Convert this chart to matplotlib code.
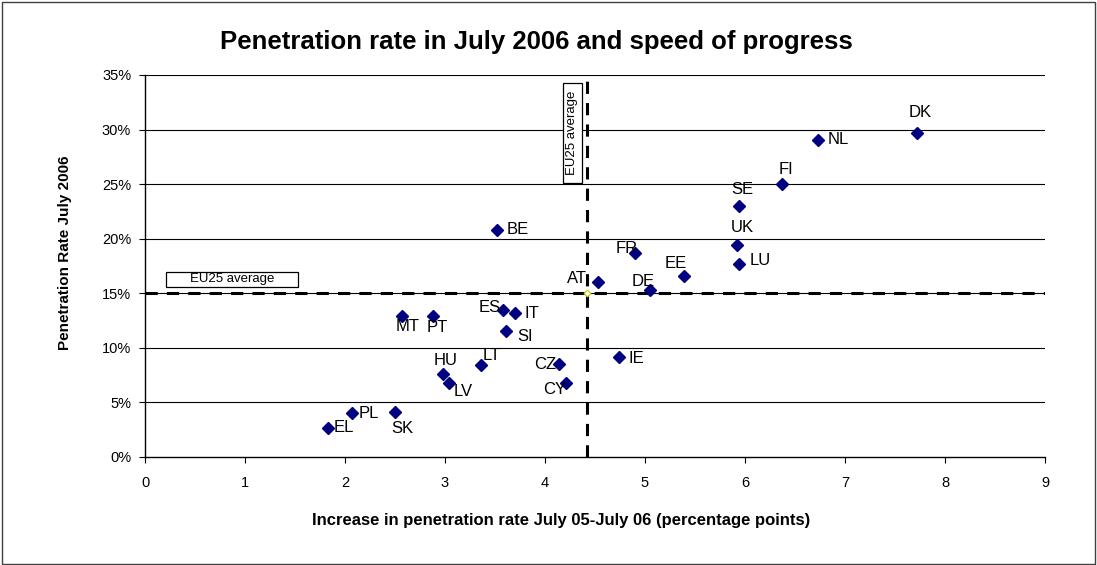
import matplotlib
matplotlib.use("Agg")
import matplotlib.pyplot as plt
from matplotlib.patches import Rectangle

plt.rcParams['font.family'] = ['Liberation Sans', 'DejaVu Sans']

countries = ["DK", "NL", "FI", "SE", "UK", "LU", "FR", "EE", "DE", "AT", "BE",
             "ES", "IT", "SI", "MT", "PT", "HU", "LV", "LT", "CZ", "CY", "IE",
             "PL", "SK", "EL"]
increase = [7.72, 6.73, 6.37, 5.94, 5.92, 5.94, 4.90, 5.39, 5.05, 4.53, 3.52,
            3.58, 3.70, 3.61, 2.57, 2.88, 2.98, 3.04, 3.36, 4.14, 4.21, 4.74,
            2.07, 2.50, 1.83]
penetration = [29.7, 29.05, 25.0, 23.0, 19.4, 17.7, 18.7, 16.6, 15.3, 16.0, 20.8,
               13.5, 13.2, 11.5, 12.9, 12.9, 7.6, 6.8, 8.4, 8.5, 6.8, 9.2,
               4.0, 4.1, 2.7]
eu_increase = 4.42
eu_penetration = 15.0

# label offsets in pixels (dx, dy) and horizontal alignment
label_pos = {
    "DK": (3, 20, "center"), "NL": (10, 0, "left"), "FI": (4, 15, "center"),
    "SE": (3, 16, "center"), "UK": (5, 18, "center"), "LU": (11, 3, "left"),
    "FR": (3, 4, "right"), "EE": (-8, 12, "center"), "DE": (-7, 9, "center"),
    "AT": (-11, 4, "right"), "BE": (10, 0, "left"), "ES": (-2, 2, "right"),
    "IT": (10, -1, "left"), "SI": (11, -5, "left"), "MT": (6, -10, "center"),
    "PT": (4, -11, "center"), "HU": (3, 14, "center"), "LV": (14, -9, "center"),
    "LT": (11, 10, "center"), "CZ": (-3, 0, "right"), "CY": (-11, -7, "center"),
    "IE": (10, -2, "left"), "PL": (7, 0, "left"), "SK": (7, -16, "center"),
    "EL": (6, 0, "left"),
}

fig = plt.figure(figsize=(10.97, 5.65), dpi=100)
fig.patches.append(Rectangle((0.0015, 0.002), 0.997, 0.994, transform=fig.transFigure,
                             fill=False, edgecolor='#404040', linewidth=1.0))
ax = fig.add_axes([145/1097, 1-457/565, 900/1097, 382/565])

ax.set_xlim(0, 9)
ax.set_ylim(0, 35)
ax.set_xticks(range(0, 10))
ax.set_yticks(range(0, 40, 5))
ax.set_yticklabels([f"{v}%" for v in range(0, 40, 5)])
ax.tick_params(labelsize=10.5, length=4, width=0.8, direction='out')
ax.tick_params(axis='x', pad=10)
ax.tick_params(axis='y', pad=6)
for y in range(5, 40, 5):
    ax.axhline(y, color='black', linewidth=0.8, zorder=1)
ax.spines['right'].set_visible(False)
ax.spines['top'].set_visible(False)
for s in ['left', 'bottom']:
    ax.spines[s].set_linewidth(1.0)

ax.axhline(eu_penetration, color='black', linewidth=2.2, linestyle=(0, (4, 3)), zorder=2)
ax.axvline(eu_increase, color='black', linewidth=2.2, linestyle=(0, (4, 3)), zorder=2)

ax.plot(increase, penetration, linestyle='none', marker='D', markersize=6.3,
        color='#000080', zorder=4)
ax.plot([eu_increase], [eu_penetration], linestyle='none', marker='D', markersize=3.5,
        markerfacecolor='white', markeredgecolor='#c8c800', markeredgewidth=0.8, zorder=5)

for c, x, y in zip(countries, increase, penetration):
    dx, dy, ha = label_pos[c]
    ax.annotate(c, (x, y), xytext=(dx * 0.72, dy * 0.72), textcoords='offset points',
                ha=ha, va='center', fontsize=12, zorder=6)

# EU25 average text boxes
ax.add_patch(Rectangle((0.21, 15.58), 1.32, 1.37, facecolor='white', edgecolor='black',
                       linewidth=0.9, zorder=6))
ax.text(0.87, 16.27, "EU25 average", ha='center', va='center', fontsize=9.5, zorder=7)
ax.add_patch(Rectangle((4.177, 25.08), 0.19, 9.22, facecolor='white', edgecolor='black',
                       linewidth=0.9, zorder=6))
ax.text(4.272, 29.69, "EU25 average", ha='center', va='center', fontsize=9.5,
        rotation=90, zorder=7)

fig.text(536/1097, 1-42/565, "Penetration rate in July 2006 and speed of progress",
         ha='center', va='center', fontsize=18.5, fontweight='bold')
fig.text(561/1097, 1-520/565,
         "Increase in penetration rate July 05-July 06 (percentage points)",
         ha='center', va='center', fontsize=12, fontweight='bold')
fig.text(65/1097, 1-253/565, "Penetration Rate July 2006", ha='center', va='center',
         rotation=90, fontsize=11, fontweight='bold')

fig.savefig("out.png", dpi=100)
